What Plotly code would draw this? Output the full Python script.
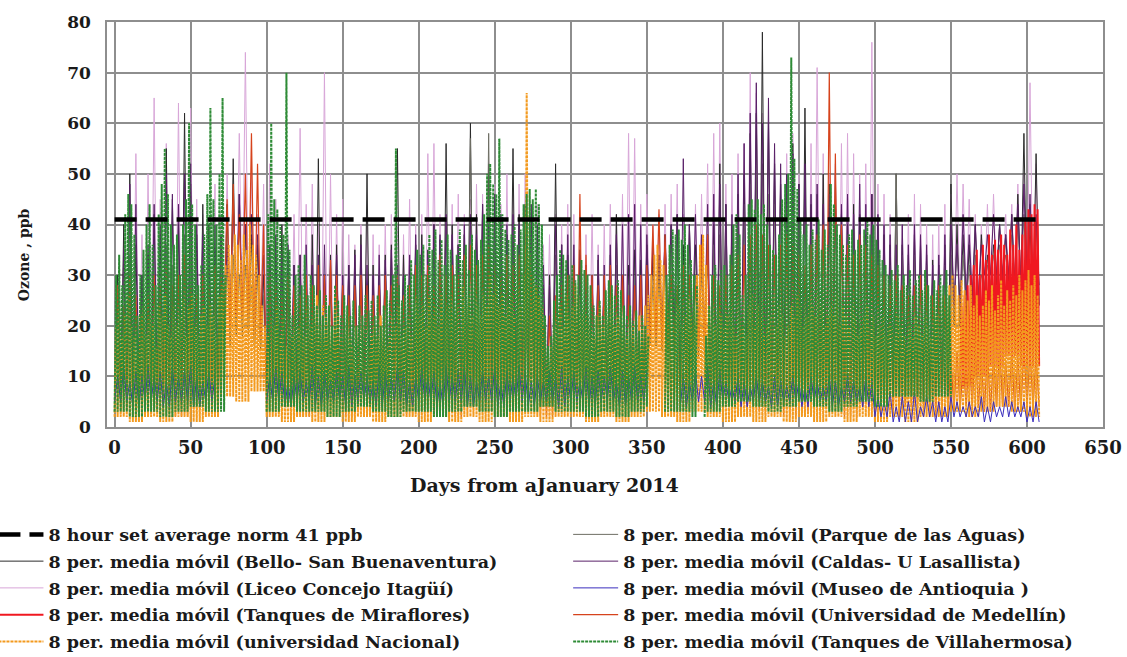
import plotly.graph_objects as go

# ---------------- data ----------------
x_ticks = list(range(0, 651, 50))
y_ticks = list(range(0, 81, 10))

norm_days = [0, 608]
norm_ppb = [41, 41]

# Each station: daily-cycle peaks (one value per `step` days) and trough levels (one per 10-day block)
villa_start, villa_step = 0, 2
villa_peaks = [
    30, 34, 28, 42, 46,  44, 38, 22, 30, 35,  40, 44, 36, 28, 42,  48, 55, 46, 40, 36,
    38, 30, 40, 45, 60,  44, 40, 28, 32, 38,  46, 63, 45, 40, 50,  65, 30, None, None, None,
    None, None, None, None, None,  None, None, None, None, None,
    42, 60, 45, 43, 40,  38, 70, 35, 22, 30,  32, 28, 34, 26, 30,  28, 24, 27, 22, 26,
    24, 20, 28, 25, 22,  26, 24, 22, 25, 20,  24, 22, 26, 23, 25,  22, 26, 20, 24, 27,
    25, 30, 55, 28, 25,  30, 28, 33, 30, 35,  34, 36, 30, 38, 35,  39, 33, 37, 32, 38,
    35, 30, 34, 39, 33,  36, 31, 38, 35, 33,  37, 42, 50, 52, 48,  46, 57, 42, 39, 37,
    38, 40, 36, 39, 44,  46, 47, 45, 47, 44,  40, 22, 16, 18, 25,  30, 35, 34, 33, 30,
    32, 29, 30, 33, 31,  30, 28, 24, 22, 25,  22, 27, 29, 28, 26,  29, 27, 24, 22, 24,
    21, 23, 19, 22, 20,  18, None, None, None, None,  None, 30, 36, 39, 38,  39, 37, 40, 36, 33,
    30, 28, None, None, 18,  24, 30, 32, 29, 31,  32, 30, 34, 40, 42,  38, 26, 30, 44, 45,
    43, 45, 42, 44, 40,  36, 35, 34, 38, 45,  48, 50, 73, 53, 47,  41, 38, 40, 36, 39,
    37, 41, 35, 39, 36,  48, 44, 40, 38, 36,  34, 38, 39, 35, 37,  36, 39, 41, 38, 40,
    37, 35, 33, 32, 30,  31, 29, 32, 27, 30,  28, 31, 26, 29, 30,  27, 31, 28, 26, 29,
    27, 30, 28, 31, 26,
]
villa_lows = [3, 2, 3, 2, 3, 4, 3, 3, 3, 3,
              3, 4, 3, 3, 2, 3, 4, 3, 2, 3, 3, 2, 3, 4, 3, 2, 3, 3, 4, 3,
              3, 2, 3, 2, 3, 4, 3, 3, 2, 3, 4, 5, 4, 3, 4, 5, 4, 3, 4, 5,
              4, 6, 6, 5, 6, 6]

nacional_start, nacional_step = 0, 2
nacional_peaks = [
    20, 24, 18, 22, 26,  20, 18, 15, 22, 24,  18, 22, 20, 16, 24,  22, 26, 20, 18, 24,
    20, 22, 25, 18, 24,  26, 20, 18, 22, 24,  20, 24, 22, 18, 26,  28, 32, 36, 34, 38,
    36, 33, 38, 35, 40,  36, 34, 30, 24, 20,  18, 22, 20, 24, 18,  22, 16, 20, 18, 24,
    20, 22, 18, 24, 20,  22, 26, 20, 24, 22,  24, 20, 26, 22, 18,  20, 22, 18, 16, 20,
    18, 20, 22, 16, 18,  20, 18, 22, 20, 16,  18, 22, 20, 24, 18,  20, 22, 18, 24, 26,
    22, 24, 20, 26, 22,  24, 20, 26, 22, 24,  26, 22, 24, 20, 28,  24, 26, 22, 28, 24,
    22, 26, 24, 30, 26,  28, 24, 26, 22, 24,  26, 22, 28, 24, 30,  66, 34, 30, 28, 26,
    24, 18, 14, 16, 20,  22, 24, 20, 26, 22,  24, 28, 26, 22, 24,  22, 20, 18, 22, 24,
    20, 24, 22, 26, 20,  22, 24, 20, 18, 22,  20, 18, 22, 20, 24,  26, 30, 34, 36, 33,
    32, 28, 24, 20, 22,  24, 20, 22, 26, 22,  24, 30, 36, 38, 32,  24, 22, 20, 24, 22,
    20, 22, 24, 20, 18,  22, 20, 18, 24, 26,  20, 24, 22, 18, 20,  22, 26, 20, 24, 22,
    18, 20, 24, 22, 26,  24, 20, 22, 26, 24,  22, 26, 24, 20, 22,  24, 22, 26, 20, 24,
    22, 20, 24, 22, 18,  20, 22, 24, 20, 22,  18, 20, 22, 18, 20,  20, 18, 22, 20, 18,
    16, 20, 18, 22, 20,  18, 22, 20, 18, 24,  22, 24, 26, 24, 28,  30, 28, 26, 29, 27,
    25, 28, 24, 26, 22,  24, 27, 25, 28, 23,  26, 29, 24, 27, 25,  28, 26, 30, 27, 29,
    31, 28, 30, 26,
]
nacional_lows = [2, 1, 2, 1, 2, 1, 2, 6, 5, 7,
                 2, 1, 2, 1, 2, 1, 2, 1, 2, 2, 1, 2, 1, 2, 1, 2, 1, 2, 1, 2,
                 2, 1, 2, 1, 2, 3, 2, 1, 3,
                 2, 1, 2, 1, 2, 1, 2, 1, 2, 1, 2, 1, 2, 1, 2, 2,
                 3, 2, 3, 4, 3, 2]

miraflores_start, miraflores_step = 556, 2
miraflores_peaks = [24, 26, 28, 30, 32,  35, 30, 36, 33, 38,  34, 37, 35, 38, 36,
                    34, 39, 36, 40, 35,  38, 41, 43, 42, 44,  43]
miraflores_lows = [8, 10, 12, 14, 12, 12]

bello_start, bello_step = 0, 4
bello_peaks = [
    30, 40, 50, 36, 30,  34, 42, 38, 55, 45,  40, 62, 48, 38, 44,  40, 35, 38, 44, 53,
    46, 40, 38, 36, 30,  36, 34, 40, 35, 32,  34, 30, 38, 53, 30,  34, 36, 28, 32, 35,
    38, 50, 32, 30, 34,  36, 55, 34, 32, 36,  38, 35, 40, 37, 56,  40, 36, 38, 60, 42,
    44, 52, 45, 40, 38,  55, 42, 44, 40, 38,  28, 30, 52, 36, 34,  32, 35, 30, 28, 33,
    30, 34, 42, 30, 32,  35, 33, 36, 34, 32,  38, 40, 42, 36, 40,  36, 32, 38, 40, 52,
    44, 40, 46, 50, 58,  62, 78, 60, 52, 48,  50, 56, 48, 63, 44,  46, 50, 48, 45, 42,
    40, 44, 42, 38, 46,  40, 38, 36, 50, 36,  34, 38, 36, 34, 33,  32, 36, 48, 40, 38,
    36, 40, 38, 34, 36,  40, 38, 42, 46, 58,  40, 54,
]
bello_lows = [4, 5, 4, 6, 5, 4, 5, 16, 18, 15,
              6, 5, 4, 5, 6, 5, 4, 5, 6, 5, 5, 4, 6, 5, 4, 5, 6, 5, 4, 5, 6, 5, 4, 5, 6,
              16, 15, 5, 14,
              6, 5, 4, 5, 6, 5, 4, 5, 6, 5, 4, 5, 6, 5, 4, 5,
              20, 22, 26, 28, 26, 24]

liceo_start, liceo_step = 0, 4
liceo_peaks = [
    26, 30, 40, 54, 38,  50, 65, 45, 56, 40,  64, 50, 63, 45, 42,  40, 48, 42, 50, 45,
    58, 74, 50, 42, 48,  52, 45, 40, 38, 42,  59, 44, 48, 40, 70,  50, 42, 45, 38, 36,
    40, 42, 38, 36, 40,  42, 40, 38, 45, 40,  42, 54, 56, 42, 40,  44, 46, 42, 45, 48,
    46, 42, 48, 44, 50,  46, 48, 50, 42, 44,  36, 38, 42, 40, 44,  42, 40, 38, 42, 36,
    40, 44, 42, 46, 58,  57, 44, 46, 40, 42,  44, 46, 48, 42, 40,  44, 46, 52, 58, 60,
    48, 50, 54, 56, 70,  66, 62, 58, 52, 50,  54, 58, 50, 52, 56,  71, 54, 50, 52, 56,
    58, 54, 50, 52, 76,  48, 46, 42, 44, 40,  42, 46, 44, 40, 38,  40, 44, 46, 50, 48,
    45, 42, 40, 44, 46,  40, 42, 44, 48, 50,  68, 52,
]
liceo_lows = [6, 8, 7, 9, 6, 8, 7, 20, 22, 20,
              8, 7, 9, 8, 6, 8, 7, 9, 8, 7, 6, 8, 9, 7, 8, 6, 7, 9, 8, 7, 8, 6, 7, 9, 8,
              18, 16, 8, 16,
              8, 7, 9, 8, 6, 8, 7, 9, 8, 7, 6, 8, 9, 7, 8, 7,
              22, 24, 26, 28, 26, 24]

parque_start, parque_step = 0, 4
parque_peaks = [
    24, 30, 34, 28, 26,  30, 34, 28, 36, 32,  34, 38, 36, 30, 32,  34, 30, 36, 32, 34,
    30, 32, 28, 30, 26,  28, 30, 32, 28, 26,  30, 28, 26, 30, 28,  26, 28, 30, 26, 28,
    30, 28, 26, 30, 28,  30, 32, 28, 30, 34,  32, 34, 30, 36, 32,  34, 36, 38, 57, 34,
    36, 58, 40, 36, 34,  38, 36, 40, 38, 36,  26, 28, 34, 32, 30,  30, 32, 28, 30, 28,
    30, 28, 32, 30, 28,  30, 28, 26, 28, 30,  32, 34, 36, 32, 34,  30, 32, 34, 36, 38,
    40, 38, 42, 44, 48,  50, 52, 46, 44, 42,  44, 46, 42, 44, 40,  42, 40, 44, 42, 40,
    38, 40, 36, 38, 40,  36, 34, 32, 50, 34,  32, 34, 30, 32, 30,  30, 32, 34, 36, 34,
    32, 34, 30, 32, 34,  36, 34, 38, 40, 42,  44, 40,
]
parque_lows = [5, 4, 6, 5, 4, 6, 5, 18, 20, 16,
               5, 6, 4, 5, 6, 4, 5, 6, 5, 4, 6, 5, 4, 6, 5, 4, 5, 6, 4, 5, 6, 4, 5, 6, 5,
               16, 18, 5, 16,
               5, 6, 4, 5, 6, 4, 5, 6, 5, 4, 6, 5, 4, 6, 5, 4,
               22, 24, 28, 30, 28, 26]

caldas_start, caldas_step = 0, 4
caldas_peaks = [
    28, 35, 48, 44, 30,  36, 44, 40, 50, 46,  44, 50, 52, 40, 38,  36, 40, 38, 36, 44,
    46, 40, 42, 38, 34,  36, 38, 34, 36, 32,  34, 36, 32, 34, 36,  32, 34, 30, 32, 34,
    36, 32, 30, 34, 33,  35, 32, 30, 34, 38,  36, 34, 40, 38, 42,  38, 36, 40, 42, 38,
    44, 40, 46, 42, 40,  42, 40, 38, 44, 40,  32, 28, 40, 36, 38,  36, 34, 32, 30, 34,
    32, 36, 38, 40, 42,  44, 40, 38, 36, 34,  38, 40, 42, 53, 40,  42, 38, 44, 46, 48,
    44, 42, 50, 56, 62,  68, 60, 65, 56, 52,  50, 54, 48, 52, 46,  48, 44, 46, 50, 44,
    46, 42, 48, 44, 46,  42, 40, 38, 36, 40,  36, 40, 38, 36, 32,  34, 38, 40, 36, 42,
    38, 40, 36, 38, 42,  40, 38, 42, 44, 48,  46, 42,
]
caldas_lows = [6, 5, 7, 6, 5, 7, 6, 20, 22, 18,
               6, 7, 5, 6, 7, 5, 6, 7, 6, 5, 7, 6, 5, 7, 6, 5, 6, 7, 5, 6, 7, 5, 6, 7, 6,
               18, 20, 6, 18,
               6, 7, 5, 6, 7, 5, 6, 7, 6, 5, 7, 6, 5, 7, 6, 5,
               24, 26, 30, 30, 28, 28]

museo_start, museo_step = 0, 4
museo_peaks = [
    10, 12, 9, 11, 10,  12, 10, 11, 9, 12,  10, 11, 12, 10, 9,  11, 10, None, None, None,
    None, None, None, None, None,  10, 12, 11, 9, 10,  11, 9, 12, 10, 11,  9, 11, 10, 12, 10,
    11, 10, 9, 12, 11,  10, 12, 11, 9, 10,  12, 10, 11, 9, 12,  10, 11, 12, 10, 9,
    11, 10, 12, 9, 11,  10, 12, 11, 9, 10,  9, 11, 10, 12, 10,  11, 9, 12, 10, 11,
    10, 12, 9, 11, 10,  12, 10, 11, None, None,  None, None, None, 10, 9,  11, 10, 12, 9, 11,
    9, 8, 10, 9, 8,  10, 9, 8, 10, 9,  8, 10, 9, 8, 10,  9, 8, 10, 9, 8,
    10, 9, 8, 10, 9,  6, 5, 7, 4, 6,  5, 7, 4, 6, 5,  5, 4, 6, 5, 4,
    5, 4, 6, 4, 5,  4, 6, 5, 4, 5,  4, 5,
]
museo_lows = [5, 4, 5, 4, 5, 4, 5, 4, 5, 4, 5, 4, 5, 4, 5, 4, 5, 4, 5, 4,
              5, 4, 5, 4, 5, 4, 5, 4, 5, 4, 5, 4, 5, 4, 5, 4, 5, 4, 5, 4,
              5, 4, 5, 4, 5, 4, 5, 4, 5, 4, 2, 1, 1, 2, 1, 2, 2, 1, 2, 2, 1]

medellin_start, medellin_step = 0, 4
medellin_peaks = [
    28, 24, 30, 26, 22,  26, 30, 28, 32, 28,  30, 34, 28, 26, 30,  28, 32, 30, 45, 48,
    42, 50, 58, 52, 40,  30, 28, 26, 30, 28,  26, 30, 28, 32, 30,  33, 30, 28, 26, 28,
    30, 28, 26, 28, 30,  28, 30, 26, 28, 32,  30, 32, 28, 34, 30,  32, 30, 34, 36, 32,
    34, 36, 32, 30, 34,  32, 34, 36, 30, 28,  20, 22, 26, 28, 30,  32, 46, 34, 30, 28,
    30, 32, 28, 30, 26,  28, 30, 32, 40, 43,  38, 30, 28, 32, 30,  28, 36, 38, 30, 28,
    30, 32, 34, 36, 38,  40, 38, 36, 34, 36,  38, 36, 34, 32, 36,  38, 40, 70, 54, 40,
    36, 34, 38, 36, 34,  32, 30, 28, 30, 28,  26, 28, 30, 28, 26,  28, 26, 14, 15, 13,
    14, 16, 13, 15, 14,  16, 13, 15, 14, 16,  15, 14,
]
medellin_lows = [3, 2, 4, 3, 2, 4, 3, 20, 22, 18,
                 3, 4, 2, 3, 4, 2, 3, 4, 3, 2, 4, 3, 2, 4, 3, 2, 3, 4, 2, 3, 4, 2, 3, 4, 3,
                 18, 16, 3, 16,
                 3, 4, 2, 3, 4, 2, 3, 4, 3, 2, 4, 3, 2, 4, 3, 2,
                 3, 4, 3, 4, 3, 4]


def zigzag(start, step, peaks, lows):
    """Trough (block level) then peak for every daily cycle."""
    xs, ys = [], []
    for i, p in enumerate(peaks):
        d = start + i * step
        xs += [d, d + step / 2]
        if p is None:
            ys += [None, None]
        else:
            ys += [lows[min((d - start) // 10, len(lows) - 1)], p]
    if peaks[-1] is not None:
        d_end = start + len(peaks) * step
        xs.append(d_end)
        ys.append(lows[min((d_end - start) // 10, len(lows) - 1)])
    return xs, ys


PRE = "8 per. media móvil "
stations = {
    "bello": dict(name=PRE + "(Bello- San Buenaventura)", color="#2b2b2b", dash="solid", width=1,
                  data=(bello_start, bello_step, bello_peaks, bello_lows), legend="legend", rank=2),
    "liceo": dict(name=PRE + "(Liceo Concejo Itagüí)", color="#d8a6d8", dash="solid", width=1,
                  data=(liceo_start, liceo_step, liceo_peaks, liceo_lows), legend="legend", rank=3),
    "miraflores": dict(name=PRE + "(Tanques de Miraflores)", color="#f01820", dash="solid", width=2,
                       data=(miraflores_start, miraflores_step, miraflores_peaks, miraflores_lows),
                       legend="legend", rank=4),
    "nacional": dict(name=PRE + "(universidad Nacional)", color="#f39a1e", dash="3px,1px", width=2,
                     data=(nacional_start, nacional_step, nacional_peaks, nacional_lows),
                     legend="legend", rank=5),
    "parque": dict(name=PRE + "(Parque de las Aguas)", color="#6e6e64", dash="solid", width=1,
                   data=(parque_start, parque_step, parque_peaks, parque_lows), legend="legend2", rank=1),
    "caldas": dict(name=PRE + "(Caldas- U Lasallista)", color="#5a2068", dash="solid", width=1,
                   data=(caldas_start, caldas_step, caldas_peaks, caldas_lows), legend="legend2", rank=2),
    "museo": dict(name=PRE + "(Museo de Antioquia )", color="#3a2dbd", dash="solid", width=1,
                  data=(museo_start, museo_step, museo_peaks, museo_lows), legend="legend2", rank=3),
    "medellin": dict(name=PRE + "(Universidad de Medellín)", color="#d6431c", dash="solid", width=1.2,
                     data=(medellin_start, medellin_step, medellin_peaks, medellin_lows),
                     legend="legend2", rank=4),
    "villa": dict(name=PRE + "(Tanques de Villahermosa)", color="#2e8b36", dash="3px,1px", width=2,
                  data=(villa_start, villa_step, villa_peaks, villa_lows), legend="legend2", rank=5),
}

draw_order = ["liceo", "bello", "parque", "caldas", "medellin", "miraflores",
              "nacional", "museo", "villa"]

fig = go.Figure()
for key in draw_order:
    s = stations[key]
    xs, ys = zigzag(*s["data"])
    fig.add_trace(go.Scatter(
        x=xs, y=ys, mode="lines", name=s["name"],
        line=dict(color=s["color"], width=s["width"], dash=s["dash"]),
        legend=s["legend"], legendrank=s["rank"], legendgroup=key,
        connectgaps=False, hoverinfo="skip",
    ))

fig.add_trace(go.Scatter(
    x=norm_days, y=norm_ppb, mode="lines", name="8 hour set average norm 41 ppb",
    line=dict(color="black", width=4.5, dash="22px,9px"),
    legend="legend", legendrank=1, legendgroup="norm", hoverinfo="skip",
))

grid = "#8e8e8e"
FONT = "DejaVu Serif"
fig.update_layout(
    width=1127, height=657,
    margin=dict(l=107, r=24, t=22, b=230, autoexpand=False),
    paper_bgcolor="white", plot_bgcolor="white",
    font=dict(family=FONT, size=16, color="#1a1a1a", weight="bold"),
    xaxis=dict(range=[-5, 650], tickvals=x_ticks, showgrid=True, gridcolor=grid, gridwidth=1.5,
               zeroline=False, showline=True, linecolor=grid, linewidth=1.5, mirror=True,
               ticks="", tickfont=dict(size=18), ticklabelstandoff=4, automargin=False),
    yaxis=dict(range=[0, 80], tickvals=y_ticks, showgrid=True, gridcolor=grid, gridwidth=1.5,
               zeroline=False, showline=True, linecolor=grid, linewidth=1.5, mirror=True,
               ticks="", tickfont=dict(size=17), ticklabelstandoff=11, automargin=False),
    legend=dict(x=-0.114, y=-0.221, xanchor="left", yanchor="top", orientation="v",
                font=dict(size=17.5), itemwidth=45, tracegroupgap=1, bgcolor="rgba(0,0,0,0)"),
    legend2=dict(x=0.463, y=-0.221, xanchor="left", yanchor="top", orientation="v",
                 font=dict(size=17.5), itemwidth=45, tracegroupgap=1, bgcolor="rgba(0,0,0,0)"),
    showlegend=True,
    annotations=[
        dict(text="Ozone , ppb", xref="paper", yref="paper", x=-0.083, y=0.425,
             xanchor="center", yanchor="middle",
             textangle=-90, showarrow=False, font=dict(size=14)),
        dict(text="Days from aJanuary 2014", xref="paper", yref="paper", x=0.439, y=-0.143,
             xanchor="center", yanchor="middle", showarrow=False, font=dict(size=19)),
    ],
)

fig.write_html("out.html", config={"displayModeBar": False},
               post_script="document.body.style.margin='0px';")
